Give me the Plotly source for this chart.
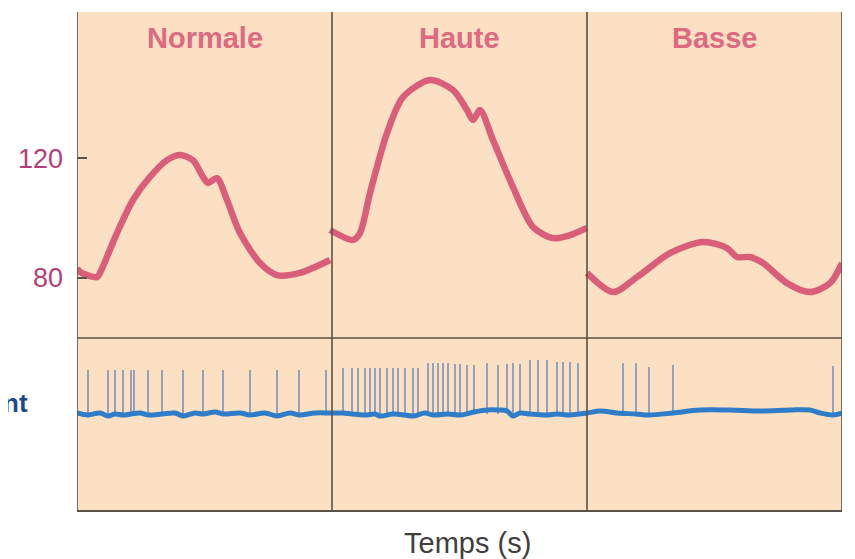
import plotly.graph_objects as go

# ---- data (time in s, pressure in mmHg) ----
PX0, PXW = 77.0, 255.0  # helper to convert my read-off positions to time
def t(p):
    return [(v - PX0) / PXW for v in p]

panels = ["Normale", "Haute", "Basse"]

p1_x = t([77, 80, 97, 100, 117, 133, 150, 167, 180, 193, 203, 208, 217, 227, 240, 260, 277, 300, 330])
p1_y = [83.3, 82, 80.3, 81.7, 95, 106, 113.7, 119.3, 121, 119.3, 113.7, 111.7, 113.3, 106, 95, 85, 81, 81.7, 86]

p2_x = t([330, 353, 360, 370, 387, 403, 430, 453, 467, 473, 480, 493, 513, 533, 553, 570, 587])
p2_y = [96, 92.7, 95, 108.3, 128.3, 140.3, 146, 142.7, 136, 132.7, 136, 126, 110.3, 97, 93.3, 94.3, 96.7]

p3_x = t([587, 613, 637, 670, 703, 727, 737, 750, 763, 787, 810, 830, 842])
p3_y = [81.7, 75.3, 80.3, 88.3, 92, 90, 87, 87, 85, 78.3, 75.3, 78.3, 85]

pressure_ticks = [80, 120]

# nerve activity (arbitrary units)
spike_t = t([88, 108, 115, 123, 131, 134, 148, 162, 183, 203, 223, 250, 277, 299, 326,
             343, 352, 358, 365, 370, 375, 380, 387, 393, 398, 405, 413, 418, 428, 433, 438, 443, 448,
             455, 460, 467, 474, 487, 498, 507, 513, 520, 530, 538, 547, 557, 563, 570, 578,
             623, 636, 649, 673, 833])
spike_top = [141] * 15 + [143] * 13 + [148] * 5 + [147, 147, 146, 146, 148, 146, 147, 148, 147, 151, 151, 151, 149, 149, 149, 148] + [148, 148, 144, 146, 145]

base_t = t([77, 88, 100, 108, 115, 123, 131, 140, 148, 162, 175, 183, 195, 203, 215, 223, 240, 250, 265, 277, 290, 299, 315, 330,
            343, 352, 365, 375, 380, 393, 405, 413, 425, 433, 448, 460, 474, 487, 498, 507, 513, 520, 530, 547, 557, 570, 587,
            600, 617, 636, 649, 673, 700, 730, 760, 790, 810, 820, 833, 842])
base_v = [98, 96, 98, 95, 97, 96, 97, 98, 96, 97, 98, 95, 98, 97, 99, 97, 98, 96, 98, 95, 98, 96, 98, 98,
          98, 97, 96, 97, 95, 97, 96, 95, 98, 96, 97, 96, 99, 101, 101, 100, 95, 98, 97, 96, 97, 96, 98,
          100, 98, 97, 96, 98, 101, 101, 100, 101, 101, 98, 96, 98]

# ---- figure ----
PINK = "#DA5E7A"
BLUE = "#2F7CC8"
SPIKE = "#8A9BBB"
EDGE = "#5b5247"

fig = go.Figure()
for xs, ys in [(p1_x, p1_y), (p2_x, p2_y), (p3_x, p3_y)]:
    fig.add_trace(go.Scatter(x=xs, y=ys, mode="lines", line=dict(color=PINK, width=6.5, shape="spline", smoothing=0.8),
                             xaxis="x", yaxis="y", hoverinfo="skip", showlegend=False))

sx, sy = [], []
for tt, top in zip(spike_t, spike_top):
    sx += [tt, tt, None]
    sy += [97, top, None]
fig.add_trace(go.Scatter(x=sx, y=sy, mode="lines", line=dict(color=SPIKE, width=1.8),
                         xaxis="x", yaxis="y2", hoverinfo="skip", showlegend=False))
fig.add_trace(go.Scatter(x=base_t, y=base_v, mode="lines", line=dict(color=BLUE, width=5, shape="spline"),
                         xaxis="x", yaxis="y2", hoverinfo="skip", showlegend=False))

split = (511 - 338) / 499.0
fig.update_layout(
    width=847, height=551,
    margin=dict(l=69, r=13, t=4, b=48),
    paper_bgcolor="white",
    plot_bgcolor="#FBE0C4",
    font=dict(family="Liberation Sans, Arial, sans-serif"),
    xaxis=dict(range=[0, 3], showgrid=False, zeroline=False, showticklabels=False, ticks="",
               showline=False, fixedrange=True),
    yaxis=dict(domain=[split, 1], range=[60, 168.7], tickvals=pressure_ticks, ticktext=[str(v) for v in pressure_ticks],
               ticks="inside", ticklen=10, tickcolor=EDGE, tickwidth=1.5, ticklabelstandoff=13,
               tickfont=dict(size=27, color="#B63E78"), showgrid=False, zeroline=False, showline=False),
    yaxis2=dict(domain=[0, split], range=[0, 173], showticklabels=False, ticks="", showgrid=False, zeroline=False),
)

shapes = []
for xv in [0, 1, 2, 3]:
    shapes.append(dict(type="line", xref="x", yref="paper", x0=xv, x1=xv, y0=0, y1=1,
                       line=dict(color=EDGE, width=1.6)))
shapes.append(dict(type="line", xref="paper", yref="paper", x0=0, x1=1, y0=split, y1=split,
                   line=dict(color=EDGE, width=1.6)))
shapes.append(dict(type="line", xref="paper", yref="paper", x0=0, x1=1, y0=0, y1=0,
                   line=dict(color=EDGE, width=1.8)))
fig.update_layout(shapes=shapes)

ann = []
for i, name in enumerate(panels):
    ann.append(dict(x=i + 0.5, y=1 - 26 / 499.0, xref="x", yref="paper", text="<b>" + name + "</b>",
                    showarrow=False, font=dict(size=29, color="#DD6A80"), xanchor="center", yanchor="middle"))
ann.append(dict(x=(467 - 77) / 765.0, y=-32 / 499.0, xref="paper", yref="paper", text="Temps (s)", showarrow=False,
                font=dict(size=29, color="#3f3f3f"), xanchor="center", yanchor="middle"))
ann.append(dict(x=(30 - 77) / 765.0, y=(511 - 403) / 499.0, xref="paper", yref="paper", text="<b>Nerf afférent</b>",
                showarrow=False, font=dict(size=26, color="#1E4A8C"), xanchor="right", yanchor="middle"))
fig.update_layout(annotations=ann)

fig.write_html("out.html")
